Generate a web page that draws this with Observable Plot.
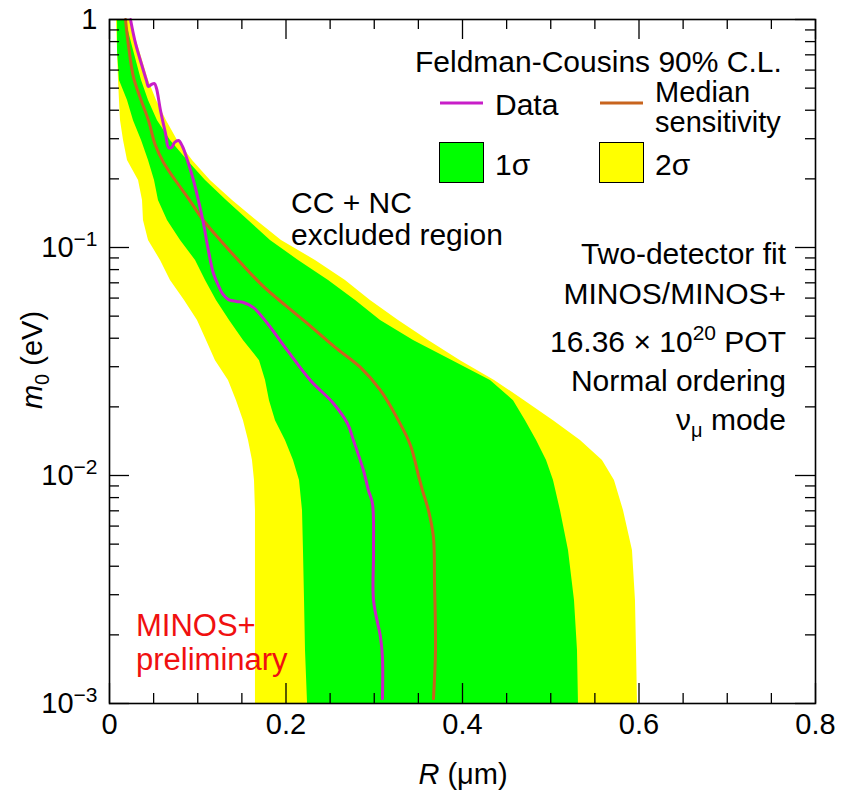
<!DOCTYPE html>
<html><head><meta charset="utf-8">
<script src="https://cdn.jsdelivr.net/npm/d3@7"></script>
<script src="https://cdn.jsdelivr.net/npm/@observablehq/plot@0.6"></script>
<style>
html,body{margin:0;padding:0;background:#fff;}
svg{font-family:"Liberation Sans",Arial,Helvetica,sans-serif;}
</style></head><body><div id="chart"></div>
<script>
// m0 (eV) grid for the bands
const m0Grid   = [1.0, 0.731, 0.540, 0.441, 0.360, 0.2946, 0.2408, 0.1967, 0.1607, 0.1313, 0.1074, 0.0877, 0.0717, 0.0585, 0.0479, 0.0391, 0.0319, 0.0261, 0.0213, 0.0174, 0.01424, 0.01164, 0.00951, 0.00702, 0.00469, 0.00283, 0.00171, 0.001];
// R (um) boundaries of the 1 sigma / 2 sigma bands
const yellowLo = [0.0079, 0.0091, 0.0102, 0.0113, 0.0125, 0.0159, 0.0204, 0.0329, 0.0374, 0.0385, 0.0442, 0.0578, 0.0691, 0.0850, 0.0997, 0.1099, 0.1201, 0.1348, 0.1439, 0.1518, 0.1575, 0.1620, 0.1643, 0.1654, 0.1654, 0.1654, 0.1654, 0.1654];
const greenLo  = [0.0091, 0.0091, 0.0113, 0.0204, 0.0272, 0.0363, 0.0442, 0.0510, 0.0555, 0.0657, 0.0805, 0.0975, 0.1088, 0.1212, 0.1360, 0.1518, 0.1700, 0.1768, 0.1813, 0.1881, 0.1994, 0.2085, 0.2153, 0.2187, 0.2198, 0.2210, 0.2221, 0.2244];
const greenHi  = [0.0181, 0.0272, 0.0363, 0.0442, 0.0544, 0.0691, 0.0884, 0.1088, 0.1326, 0.1575, 0.1824, 0.2142, 0.2482, 0.2788, 0.3071, 0.3445, 0.3887, 0.4317, 0.4578, 0.4714, 0.4839, 0.4952, 0.5031, 0.5110, 0.5201, 0.5269, 0.5303, 0.5314];
const yellowHi = [0.0227, 0.0340, 0.0442, 0.0533, 0.0646, 0.0771, 0.0941, 0.1144, 0.1394, 0.1666, 0.1949, 0.2334, 0.2674, 0.2957, 0.3275, 0.3615, 0.3977, 0.4363, 0.4703, 0.5031, 0.5337, 0.5586, 0.5722, 0.5824, 0.5926, 0.5960, 0.5972, 0.5983];
// Data contour
const dataR = [0.0238, 0.0295, 0.0374, 0.0419, 0.0442, 0.0476, 0.0510, 0.0533, 0.0578, 0.0635, 0.0669, 0.0703, 0.0737, 0.0782, 0.0827, 0.0884, 0.0952, 0.1008, 0.1065, 0.1110, 0.1178, 0.1235, 0.1280, 0.1348, 0.1439, 0.1518, 0.1632, 0.1790, 0.2017, 0.2278, 0.2538, 0.2697, 0.2765, 0.2878, 0.2935, 0.2980, 0.2992, 0.2992, 0.3071, 0.3093, 0.3093];
const dataM = [1.0, 0.785, 0.616, 0.540, 0.508, 0.519, 0.524, 0.498, 0.399, 0.316, 0.2746, 0.2746, 0.2887, 0.2946, 0.2773, 0.2408, 0.1967, 0.1607, 0.1274, 0.1020, 0.0769, 0.0681, 0.0628, 0.0591, 0.0580, 0.0574, 0.0545, 0.0464, 0.0353, 0.0261, 0.0207, 0.0169, 0.01424, 0.01052, 0.00859, 0.00753, 0.00469, 0.00283, 0.00195, 0.00159, 0.00105];
// Median sensitivity
const medianR = [0.0181, 0.0215, 0.0272, 0.0351, 0.0442, 0.0521, 0.0612, 0.0748, 0.0895, 0.1065, 0.1258, 0.1484, 0.1734, 0.1994, 0.2244, 0.2561, 0.2844, 0.3071, 0.3275, 0.3411, 0.3501, 0.3547, 0.3615, 0.3671, 0.3683, 0.3694, 0.3671];
const medianM = [1.0, 0.769, 0.557, 0.450, 0.360, 0.280, 0.236, 0.1967, 0.164, 0.1313, 0.1074, 0.0859, 0.0681, 0.0557, 0.0464, 0.0364, 0.0298, 0.0236, 0.0174, 0.01355, 0.0100, 0.00859, 0.00702, 0.00535, 0.00336, 0.00171, 0.00105];
// Ticks
const xTicks = [0, 0.2, 0.4, 0.6, 0.8];
const xTickLabels = ["0", "0.2", "0.4", "0.6", "0.8"];
const xMinor = [0.05, 0.1, 0.15, 0.25, 0.3, 0.35, 0.45, 0.5, 0.55, 0.65, 0.7, 0.75];
const yTicks = [1, 0.1, 0.01, 0.001];
const yTickLabels = ["1", "10^-1", "10^-2", "10^-3"];
const yMinor = [0.002,0.003,0.004,0.005,0.006,0.007,0.008,0.009,0.02,0.03,0.04,0.05,0.06,0.07,0.08,0.09,0.2,0.3,0.4,0.5,0.6,0.7,0.8,0.9];

const colYellow = "#ffff00", colGreen = "#00ff00", colData = "#c81ec8", colMedian = "#c8641e";

const W = 842, H = 797, mL = 109, mR = 27, mT = 19, mB = 94;
const iW = W - mL - mR, iH = H - mT - mB;
const major = 20, minor = 10;

const bands = m0Grid.map((m, i) => ({m, yl: yellowLo[i], gl: greenLo[i], gh: greenHi[i], yh: yellowHi[i]}));
const dataRows = dataR.map((r, i) => ({r, m: dataM[i]}));
const medRows = medianR.map((r, i) => ({r, m: medianM[i]}));

const svg = Plot.plot({
  width: W, height: H,
  marginLeft: mL, marginRight: mR, marginTop: mT, marginBottom: mB,
  style: {fontFamily: '"Liberation Sans", Arial, Helvetica, sans-serif', background: "#fff"},
  x: {domain: [0, 0.8]},
  y: {type: "log", domain: [0.001, 1]},
  marks: [
    Plot.areaX(bands, {y: "m", x1: "yl", x2: "yh", fill: colYellow}),
    Plot.areaX(bands, {y: "m", x1: "gl", x2: "gh", fill: colGreen}),
    Plot.line(medRows, {x: "r", y: "m", stroke: colMedian, strokeWidth: 3, curve: "catmull-rom"}),
    Plot.line(dataRows, {x: "r", y: "m", stroke: colData, strokeWidth: 3, curve: "catmull-rom"}),
    // inward ticks on all sides
    Plot.tickX(xTicks, {x: d => d, insetTop: iH - major, stroke: "black", strokeWidth: 1.3}),
    Plot.tickX(xMinor, {x: d => d, insetTop: iH - minor, stroke: "black", strokeWidth: 1.3}),
    Plot.tickX(xTicks, {x: d => d, insetBottom: iH - major, stroke: "black", strokeWidth: 1.3}),
    Plot.tickX(xMinor, {x: d => d, insetBottom: iH - minor, stroke: "black", strokeWidth: 1.3}),
    Plot.tickY(yTicks, {y: d => d, insetRight: iW - major, stroke: "black", strokeWidth: 1.3}),
    Plot.tickY(yMinor, {y: d => d, insetRight: iW - minor, stroke: "black", strokeWidth: 1.3}),
    Plot.tickY(yTicks, {y: d => d, insetLeft: iW - major, stroke: "black", strokeWidth: 1.3}),
    Plot.tickY(yMinor, {y: d => d, insetLeft: iW - minor, stroke: "black", strokeWidth: 1.3}),
    Plot.frame({stroke: "black", strokeWidth: 1.6}),
    Plot.axisX(xTicks, {anchor: "bottom", tickSize: 0, tickPadding: 10, fontSize: 29, label: null,
      tickFormat: d => xTickLabels[xTicks.indexOf(d)]}),
    Plot.axisY(yTicks, {anchor: "left", tickSize: 0, tickPadding: 12, fontSize: 29, label: null,
      tickFormat: d => yTickLabels[yTicks.indexOf(d)]})
  ]
});

const s = d3.select(svg);
s.selectAll('g[aria-label="y-axis tick label"] text').each(function() {
  const t = d3.select(this), str = t.text();
  if (str.includes("^")) {
    const [b, e] = str.split("^");
    t.text(null);
    t.append("tspan").text(b);
    t.append("tspan").attr("dy", "-11").attr("font-size", "21").text(e.replace("-", "\u2212"));
  }
});

const g = s.append("g").attr("fill", "black").attr("font-size", 29).attr("text-anchor", "start");
// axis titles
const xl = g.append("text").attr("x", 463).attr("y", 784).attr("text-anchor", "middle");
xl.append("tspan").attr("font-style", "italic").text("R");
xl.append("tspan").text(" (\u03bcm)");
const yl = g.append("text").attr("transform", "translate(42,360) rotate(-90)").attr("text-anchor", "middle");
yl.append("tspan").attr("font-style", "italic").text("m");
yl.append("tspan").attr("font-size", 20).attr("dy", 7).text("0");
yl.append("tspan").attr("dy", -7).text(" (eV)");

// legend
g.append("text").attr("x", 415).attr("y", 72).attr("font-size", 30).text("Feldman-Cousins 90% C.L.");
g.append("line").attr("x1", 440).attr("x2", 483).attr("y1", 103).attr("y2", 103).attr("stroke", colData).attr("stroke-width", 3);
g.append("text").attr("x", 495).attr("y", 115).attr("font-size", 30).text("Data");
g.append("line").attr("x1", 600).attr("x2", 643).attr("y1", 103).attr("y2", 103).attr("stroke", colMedian).attr("stroke-width", 3);
g.append("text").attr("x", 655).attr("y", 102).attr("font-size", 29).text("Median");
g.append("text").attr("x", 655).attr("y", 132).attr("font-size", 29).text("sensitivity");
g.append("rect").attr("x", 439.5).attr("y", 142.5).attr("width", 44).attr("height", 40).attr("fill", colGreen).attr("stroke", "black");
g.append("text").attr("x", 495).attr("y", 175).attr("font-size", 30).text("1\u03c3");
g.append("rect").attr("x", 599.5).attr("y", 142.5).attr("width", 44).attr("height", 40).attr("fill", colYellow).attr("stroke", "black");
g.append("text").attr("x", 655).attr("y", 175).attr("font-size", 30).text("2\u03c3");

// region label
g.append("text").attr("x", 291).attr("y", 213).attr("font-size", 30).text("CC + NC");
g.append("text").attr("x", 291).attr("y", 245).attr("font-size", 30).text("excluded region");

// info block (right aligned)
const info = g.append("g").attr("text-anchor", "end").attr("font-size", 30);
info.append("text").attr("x", 786).attr("y", 264).text("Two-detector fit");
info.append("text").attr("x", 786).attr("y", 304).text("MINOS/MINOS+");
const pot = info.append("text").attr("x", 786).attr("y", 352);
pot.append("tspan").text("16.36 \u00d7 10");
pot.append("tspan").attr("dy", -12).attr("font-size", 21).text("20");
pot.append("tspan").attr("dy", 12).text(" POT");
info.append("text").attr("x", 786).attr("y", 391).text("Normal ordering");
const nu = info.append("text").attr("x", 786).attr("y", 430);
nu.append("tspan").text("\u03bd");
nu.append("tspan").attr("dy", 7).attr("font-size", 20).text("\u03bc");
nu.append("tspan").attr("dy", -7).text(" mode");

// preliminary
const red = g.append("g").attr("fill", "#f01010").attr("font-size", 31);
red.append("text").attr("x", 136).attr("y", 636).text("MINOS+");
red.append("text").attr("x", 136).attr("y", 670).text("preliminary");

document.getElementById("chart").appendChild(svg);
</script></body></html>
